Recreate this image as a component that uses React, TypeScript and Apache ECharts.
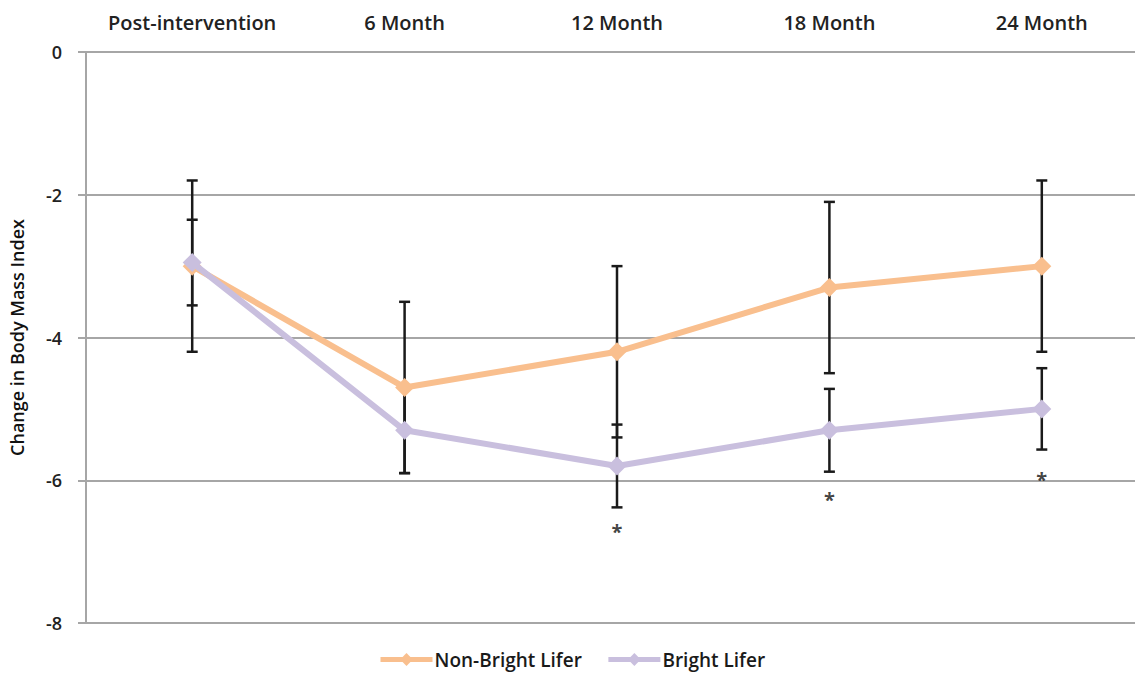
import React, { useEffect, useRef } from "react";
import * as echarts from "echarts";

const categories = ["Post-intervention", "6 Month", "12 Month", "18 Month", "24 Month"];
const nonBright = [-3.0, -4.7, -4.2, -3.3, -3.0];
const bright = [-2.95, -5.3, -5.8, -5.3, -5.0];
const nonBrightErr = [1.2, 1.2, 1.2, 1.2, 1.2];
const brightErr = [0.6, 0.6, 0.58, 0.58, 0.57];
const starValues: (number | null)[] = [null, null, -6.65, -6.2, -5.92];
const yTicks = { min: -8, max: 0, interval: 2 };

const ORANGE = "#F9BF8E";
const PURPLE = "#C9BFDE";
const FONT = "Open Sans";

function errData(vals: number[], errs: number[]) {
  return vals.map((v, i) => [i, v - errs[i], v + errs[i]]);
}

function renderErr(params: any, api: any) {
  const x = api.value(0);
  const lo = api.coord([x, api.value(1)]);
  const hi = api.coord([x, api.value(2)]);
  const half = 5.5;
  const st = { stroke: "#1a1a1a", lineWidth: 2.5 };
  return {
    type: "group",
    children: [
      { type: "line", shape: { x1: hi[0], y1: hi[1], x2: lo[0], y2: lo[1] }, style: st },
      { type: "line", shape: { x1: hi[0] - half, y1: hi[1], x2: hi[0] + half, y2: hi[1] }, style: st },
      { type: "line", shape: { x1: lo[0] - half, y1: lo[1], x2: lo[0] + half, y2: lo[1] }, style: st },
    ],
  };
}

export default function App() {
  const ref = useRef<HTMLDivElement>(null);
  useEffect(() => {
    document.body.style.margin = "0";
    const chart = echarts.init(ref.current!, null, { renderer: "svg" });
    chart.setOption({
      animation: false,
      backgroundColor: "#fff",
      textStyle: { fontFamily: FONT },
      grid: { left: 86, top: 52, width: 1062, height: 571 },
      legend: {
        top: 645,
        left: 373,
        data: ["Non-Bright Lifer", "Bright Lifer"],
        itemWidth: 52,
        itemHeight: 16,
        itemGap: 24,
        lineStyle: { width: 5 },
        textStyle: { fontFamily: FONT, fontSize: 19, color: "#1a1a1a", fontWeight: 600, padding: [0, 0, 0, -3] },
      },
      xAxis: {
        type: "category",
        position: "top",
        data: categories,
        axisLine: { lineStyle: { color: "#a6a6a6", width: 2 } },
        axisTick: { inside: true, length: 6, lineStyle: { color: "#a6a6a6", width: 2 } },
        axisLabel: { interval: 0, fontFamily: FONT, fontSize: 20, fontWeight: 600, color: "#222", margin: 20 },
      },
      yAxis: {
        type: "value",
        min: yTicks.min,
        max: yTicks.max,
        interval: yTicks.interval,
        name: "Change in Body Mass Index",
        nameLocation: "middle",
        nameRotate: 90,
        nameGap: 60,
        nameTextStyle: { fontFamily: FONT, fontSize: 18, fontWeight: 600, color: "#111" },
        axisLine: { show: true, lineStyle: { color: "#a6a6a6", width: 2 } },
        axisTick: { show: true, length: 8, lineStyle: { color: "#a6a6a6", width: 2 } },
        splitLine: { lineStyle: { color: "#a6a6a6", width: 2 } },
        axisLabel: { fontFamily: FONT, fontSize: 18, fontWeight: 600, color: "#222", margin: 24 },
      },
      series: [
        {
          type: "custom",
          name: "errNB",
          renderItem: renderErr,
          data: errData(nonBright, nonBrightErr),
          z: 1,
        },
        {
          type: "custom",
          name: "errB",
          renderItem: renderErr,
          data: errData(bright, brightErr),
          z: 1,
        },
        {
          type: "line",
          name: "Non-Bright Lifer",
          data: nonBright,
          symbol: "diamond",
          symbolSize: 19,
          itemStyle: { color: ORANGE },
          lineStyle: { color: ORANGE, width: 6 },
          z: 3,
        },
        {
          type: "line",
          name: "Bright Lifer",
          data: bright,
          symbol: "diamond",
          symbolSize: 19,
          itemStyle: { color: PURPLE },
          lineStyle: { color: PURPLE, width: 6 },
          z: 4,
        },
        {
          type: "scatter",
          name: "sig",
          data: starValues.map((v, i) => (v === null ? null : [i, v])).filter((d) => d !== null),
          symbolSize: 1,
          itemStyle: { color: "transparent" },
          label: {
            show: true,
            position: "inside",
            formatter: "*",
            fontSize: 20,
            fontWeight: "bold",
            color: "#111",
            offset: [0, 5],
          },
          z: 5,
        },
      ],
    });
    return () => chart.dispose();
  }, []);
  return (
    <div style={{ position: "fixed", left: 0, top: 0, width: 1135, height: 673, overflow: "hidden", background: "#fff" }}>
      <div ref={ref} style={{ width: 1170, height: 673 }} />
    </div>
  );
}
